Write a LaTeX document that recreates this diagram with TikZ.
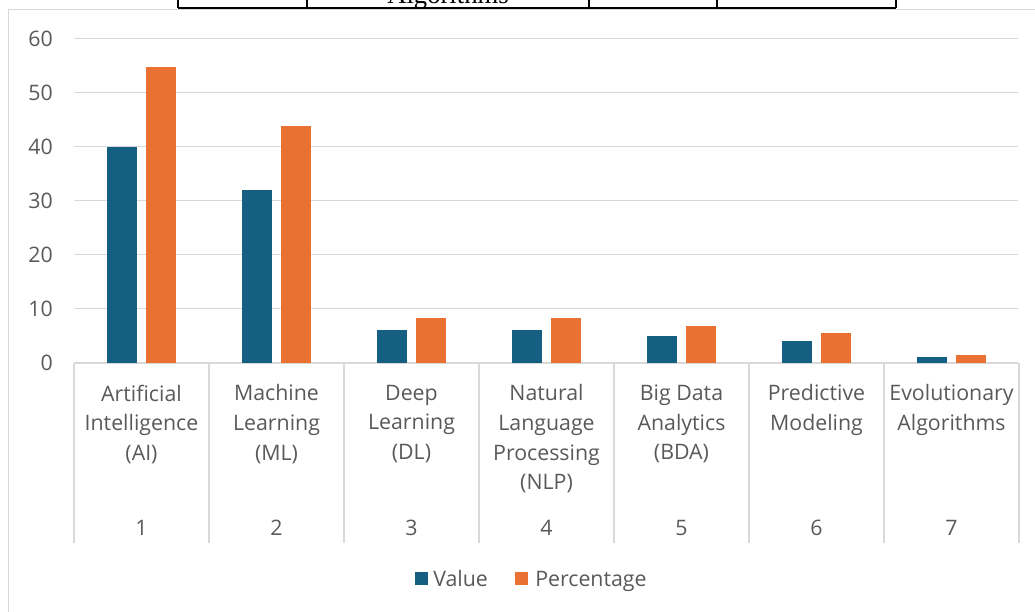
\documentclass[tikz,border=0pt]{standalone}
\usepackage{fontspec}
\setmainfont{Open Sans}
\newfontfamily\tablefont{Liberation Serif}
\usepackage{tikz}

\definecolor{valueblue}{HTML}{156082}
\definecolor{pctorange}{HTML}{E97132}
\definecolor{labelgray}{HTML}{595959}
\definecolor{gridgray}{HTML}{D9D9D9}

\tikzset{
    ticklabel/.style={text=labelgray, inner sep=0pt, font=\fontsize{16}{22.2}\selectfont},
    catlabel/.style={ticklabel, align=center, anchor=north},
    gridline/.style={gridgray, line width=1pt},
    legsq/.style={minimum size=9.75pt, inner sep=0pt},
}

\begin{document}
\begin{tikzpicture}[x=0.75pt, y=-0.75pt]
    \useasboundingbox (0,0) rectangle (1035,611);

    \node[anchor=base, inner sep=0pt, font=\tablefont\fontsize{20}{24}\selectfont] (tabtext) at (448,3.3) {Algorithms};
    \draw[line width=1pt] (178,8) -- (896,8);
    \foreach \x in {178,307,589,717,896}
        \draw[line width=1pt] (\x,-2) -- (\x,8);

    \draw[gridgray, line width=1pt] (1040,9.5) -- (8.5,9.5) -- (8.5,620);

    \foreach \y in {1,...,6}
        \draw[gridline] (74,362.5-54*\y) -- (1018,362.5-54*\y);
    \draw[gridline, line width=1.5pt] (74,362.5) -- (1018,362.5);
    \foreach \k in {0,...,7}
        \draw[gridline, line width=1.5pt] (74+135*\k,362.5) -- (74+135*\k,543);

    \foreach \y in {0,10,...,60}
        \node[ticklabel, anchor=east] (ytick\y) at (53,362.5-5.4*\y) {\y};

    \foreach \i/\v/\p/\lbl in {1/40/54.79/{Artificial\\Intelligence\\(AI)},
                               2/32/43.84/{Machine\\Learning\\(ML)},
                               3/6/8.22/{Deep\\Learning\\(DL)},
                               4/6/8.22/{Natural\\Language\\Processing\\(NLP)},
                               5/5/6.85/{Big Data\\Analytics\\(BDA)},
                               6/4/5.48/{Predictive\\Modeling},
                               7/1/1.37/{Evolutionary\\Algorithms}}{
        \fill[valueblue] (135*\i-28,362.5) rectangle (135*\i+2,362.5-5.4*\v);
        \fill[pctorange] (135*\i+11,362.5) rectangle (135*\i+41,362.5-5.4*\p);
        \node[catlabel] (cat\i) at (135*\i+6.5,384.5) {\lbl};
        \node[ticklabel] (num\i) at (135*\i+6.5,528) {\i};
    }

    \node[legsq, fill=valueblue] (valsq) at (421,578.5) {};
    \node[ticklabel, anchor=base west] (valtext) at (433,586) {Value};
    \node[legsq, fill=pctorange] (pctsq) at (521.8,578.5) {};
    \node[ticklabel, anchor=base west] (pcttext) at (535,586) {Percentage};
\end{tikzpicture}
\end{document}
